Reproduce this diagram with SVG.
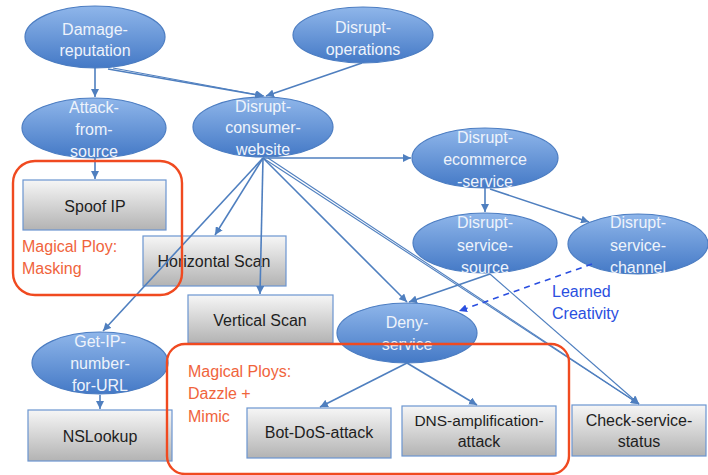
<svg xmlns="http://www.w3.org/2000/svg" width="708" height="475" viewBox="0 0 708 475">
  <style>
    .goal ellipse { fill: url(#goalFill); stroke: #4c7dc2; stroke-width: 1.2; }
    .goal text { fill: #eef3fb; font-family: "Liberation Sans", "DejaVu Sans", sans-serif; font-size: 16px; text-anchor: middle; }
    .act rect { fill: url(#actFill); stroke: #6b95d0; stroke-width: 1.2; }
    .act text { fill: #1e1e1e; font-family: "Liberation Sans", "DejaVu Sans", sans-serif; font-size: 16px; text-anchor: middle; }
    .edge { stroke: #4f7fbf; stroke-width: 1.6; fill: none; marker-end: url(#arrow); }
    .thin { stroke-width: 1.1; }
    .dash { stroke: #2a4fe0; stroke-width: 1.6; fill: none; stroke-dasharray: 6 5; marker-end: url(#arrowBlue); }
    .ploy { fill: none; stroke: #f04a20; stroke-width: 2.4; }
    .ployText { fill: #f0643c; font-family: "Liberation Sans", "DejaVu Sans", sans-serif; font-size: 16px; }
    .noteText { fill: #2a4fe0; font-family: "Liberation Sans", "DejaVu Sans", sans-serif; font-size: 16px; }
  </style>
  <defs>
    <linearGradient id="goalFill" x1="0" y1="0" x2="0" y2="1">
      <stop offset="0" stop-color="#8fb6ea"/>
      <stop offset="1" stop-color="#4479c6"/>
    </linearGradient>
    <linearGradient id="actFill" x1="0" y1="0" x2="0" y2="1">
      <stop offset="0" stop-color="#f6f6f6"/>
      <stop offset="1" stop-color="#b3b3b3"/>
    </linearGradient>
    <marker id="arrow" markerUnits="userSpaceOnUse" markerWidth="9" markerHeight="8" refX="8" refY="4" orient="auto">
      <path d="M0,0 L8,4 L0,8 z" fill="#4f7fbf"/>
    </marker>
    <marker id="arrowBlue" markerUnits="userSpaceOnUse" markerWidth="9" markerHeight="8" refX="8" refY="4" orient="auto">
      <path d="M0,0 L8,4 L0,8 z" fill="#2a4fe0"/>
    </marker>
  </defs>

  <rect width="708" height="475" fill="#ffffff"/>

  <!-- goal nodes -->
  <g id="damage-reputation" class="goal">
    <ellipse cx="95" cy="37" rx="70" ry="31"/>
    <text x="95" y="35">Damage-</text>
    <text x="95" y="56">reputation</text>
  </g>
  <g id="disrupt-operations" class="goal">
    <ellipse cx="363" cy="35" rx="70" ry="28"/>
    <text x="363" y="33">Disrupt-</text>
    <text x="363" y="55">operations</text>
  </g>
  <g id="attack-from-source" class="goal">
    <ellipse cx="94" cy="128" rx="72" ry="30"/>
    <text x="94" y="113">Attack-</text>
    <text x="94" y="135">from-</text>
    <text x="94" y="157">source</text>
  </g>
  <g id="disrupt-consumer-website" class="goal">
    <ellipse cx="263" cy="127" rx="70" ry="30"/>
    <text x="263" y="112">Disrupt-</text>
    <text x="263" y="133">consumer-</text>
    <text x="263" y="155">website</text>
  </g>
  <g id="disrupt-ecommerce-service" class="goal">
    <ellipse cx="485" cy="158" rx="73" ry="30"/>
    <text x="485" y="143">Disrupt-</text>
    <text x="485" y="165">ecommerce</text>
    <text x="485" y="187">-service</text>
  </g>
  <g id="disrupt-service-source" class="goal">
    <ellipse cx="485" cy="243" rx="72" ry="30"/>
    <text x="485" y="228">Disrupt-</text>
    <text x="485" y="251">service-</text>
    <text x="485" y="273">source</text>
  </g>
  <g id="disrupt-service-channel" class="goal">
    <ellipse cx="638" cy="244" rx="70" ry="30"/>
    <text x="638" y="228">Disrupt-</text>
    <text x="638" y="251">service-</text>
    <text x="638" y="273">channel</text>
  </g>
  <g id="deny-service" class="goal">
    <ellipse cx="407" cy="333" rx="70" ry="30"/>
    <text x="407" y="328">Deny-</text>
    <text x="407" y="350">service</text>
  </g>
  <g id="get-ip-number-for-url" class="goal">
    <ellipse cx="100" cy="363" rx="68" ry="31"/>
    <text x="100" y="347">Get-IP-</text>
    <text x="100" y="369">number-</text>
    <text x="100" y="391">for-URL</text>
  </g>

  <!-- action nodes -->
  <g id="spoof-ip" class="act">
    <rect x="23" y="180" width="143" height="50"/>
    <text x="95" y="212">Spoof IP</text>
  </g>
  <g id="horizontal-scan" class="act">
    <rect x="143" y="236" width="143" height="50"/>
    <text x="214" y="267">Horizontal Scan</text>
  </g>
  <g id="vertical-scan" class="act">
    <rect x="188" y="295" width="145" height="48"/>
    <text x="260" y="326">Vertical Scan</text>
  </g>
  <g id="nslookup" class="act">
    <rect x="28" y="410" width="144" height="51"/>
    <text x="100" y="442">NSLookup</text>
  </g>
  <g id="bot-dos-attack" class="act">
    <rect x="247" y="408" width="144" height="50"/>
    <text x="319" y="438">Bot-DoS-attack</text>
  </g>
  <g id="dns-amplification-attack" class="act">
    <rect x="402" y="406" width="154" height="50"/>
    <text x="479" y="426" style="font-size:15.5px">DNS-amplification-</text>
    <text x="479" y="447">attack</text>
  </g>
  <g id="check-service-status" class="act">
    <rect x="572" y="405" width="134" height="51"/>
    <text x="639" y="426">Check-service-</text>
    <text x="639" y="447">status</text>
  </g>

  <!-- connectors -->
  <g id="connectors">
    <path class="edge" d="M95,68 L95,97"/>
    <path class="edge" d="M108,69 L263,96"/>
    <path class="edge thin" d="M113,68 L264,96"/>
    <path class="edge" d="M362,63 L266,96"/>
    <path class="edge" d="M95,158 L95,179"/>
    <path class="edge" d="M263,158 L411,158"/>
    <path class="edge" d="M263,158 L215,235"/>
    <path class="edge" d="M263,158 L103,331"/>
    <path class="edge" d="M263,158 L260,294"/>
    <path class="edge" d="M263,158 L407,302"/>
    <path class="edge thin" d="M263,158 L639,404"/>
    <path class="edge thin" d="M268,158 L639,404"/>
    <path class="edge" d="M485,188 L485,212"/>
    <path class="edge" d="M490,189 L589,222"/>
    <path class="edge" d="M490,274 L409,302"/>
    <path class="edge thin" d="M490,274 L639,404"/>
    <path class="dash" d="M592,264 L459,311"/>
    <path class="edge" d="M407,363 L320,407"/>
    <path class="edge" d="M407,363 L477,405"/>
    <path class="edge" d="M100,395 L100,409"/>
  </g>

  <!-- ploy groupings and notes -->
  <g id="ploy-masking">
    <rect class="ploy" x="13" y="161" width="169" height="134" rx="22"/>
    <text class="ployText" x="22" y="252">Magical Ploy:</text>
    <text class="ployText" x="22" y="274">Masking</text>
  </g>
  <g id="ploy-dazzle-mimic">
    <rect class="ploy" x="167" y="344" width="402" height="130" rx="18"/>
    <text class="ployText" x="188" y="377">Magical Ploys:</text>
    <text class="ployText" x="188" y="399">Dazzle +</text>
    <text class="ployText" x="188" y="422">Mimic</text>
  </g>
  <g id="learned-creativity">
    <text class="noteText" x="552" y="297">Learned</text>
    <text class="noteText" x="552" y="319">Creativity</text>
  </g>
</svg>
